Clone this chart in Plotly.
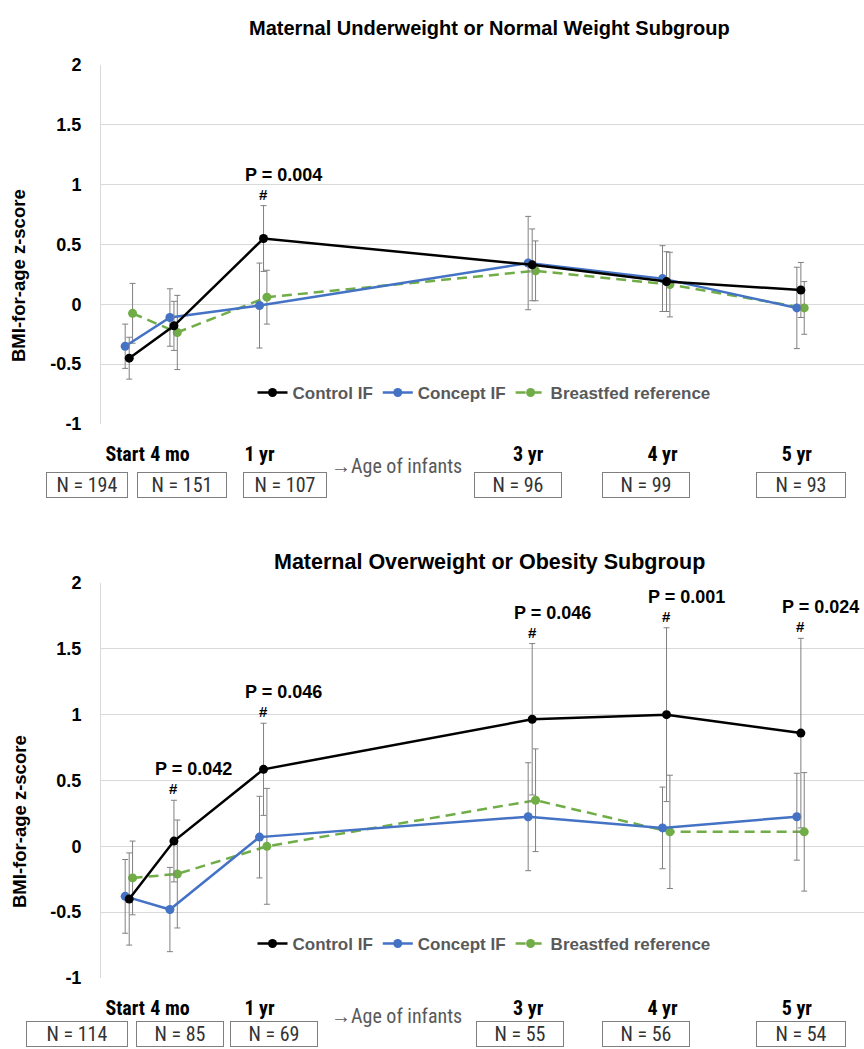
import plotly.graph_objects as go

# ---------------- data ----------------
time_labels = ["Start", "4 mo", "1 yr", "3 yr", "4 yr", "5 yr"]
age_years = [0, 0.333, 1, 3, 4, 5]
y_tick_vals = [-1, -0.5, 0, 0.5, 1, 1.5, 2]
y_tick_text = ["-1", "-0.5", "0", "0.5", "1", "1.5", "2"]

top_control = [-0.45, -0.18, 0.55, 0.33, 0.19, 0.12]
top_control_err = [0.175, 0.205, 0.275, 0.30, 0.25, 0.23]
top_concept = [-0.35, -0.11, -0.01, 0.345, 0.215, -0.03]
top_concept_err = [0.185, 0.24, 0.355, 0.39, 0.275, 0.34]
top_bf = [-0.075, -0.235, 0.06, 0.28, 0.165, -0.03]
top_bf_err = [0.25, 0.31, 0.225, 0.25, 0.27, 0.22]

bot_control = [-0.40, 0.04, 0.585, 0.965, 1.00, 0.86]
bot_control_err = [0.35, 0.31, 0.35, 0.575, 0.66, 0.72]
bot_concept = [-0.38, -0.48, 0.07, 0.225, 0.14, 0.225]
bot_concept_err = [0.28, 0.32, 0.31, 0.41, 0.31, 0.33]
bot_bf = [-0.24, -0.21, 0.0, 0.35, 0.11, 0.11]
bot_bf_err = [0.28, 0.41, 0.44, 0.39, 0.43, 0.45]

top_n = ["N = 194", "N = 151", "N = 107", "N = 96", "N = 99", "N = 93"]
bot_n = ["N = 114", "N = 85", "N = 69", "N = 55", "N = 56", "N = 54"]

top_p_idx = [2]
top_p_text = ["P = 0.004"]
bot_p_idx = [1, 2, 3, 4, 5]
bot_p_text = ["P = 0.042", "P = 0.046", "P = 0.046", "P = 0.001", "P = 0.024"]

top_title = "Maternal Underweight or Normal Weight Subgroup"
bot_title = "Maternal Overweight or Obesity Subgroup"
y_title = "BMI-for-age z-score"
x_note = "\u2192Age of infants"

# ---------------- style / layout ----------------
W, H = 864, 1049
BLACK, BLUE, GREEN, GREY = "#000000", "#4472C4", "#70AD47", "#808080"
NARROW = "Liberation Sans Narrow, Roboto Condensed, Liberation Sans, Arial"
SANS = "Liberation Sans, Arial"
off_concept, off_control, off_bf = 0.0, 0.03, 0.055


def px(x):
    return x / W


def py(y):
    return 1 - y / H


fig = go.Figure()


def add_series(values, errs, offset, name, color, dash, xa, ya, legend, show):
    fig.add_trace(go.Scatter(
        x=[a + offset for a in age_years], y=values, name=name,
        mode="lines+markers", xaxis=xa, yaxis=ya, legend=legend, showlegend=show,
        line=dict(color=color, width=2.5, dash=dash),
        marker=dict(color=color, size=9),
        error_y=dict(type="data", array=errs, color=GREY, thickness=1, width=3),
    ))


for xa, ya, lg, c, ce, k, ke, b, be in [
    ("x", "y", "legend", top_control, top_control_err, top_concept, top_concept_err, top_bf, top_bf_err),
    ("x2", "y2", "legend2", bot_control, bot_control_err, bot_concept, bot_concept_err, bot_bf, bot_bf_err),
]:
    add_series(b, be, off_bf, "Breastfed reference", GREEN, "10px,6px", xa, ya, lg, True)
    add_series(k, ke, off_concept, "Concept IF", BLUE, "solid", xa, ya, lg, True)
    add_series(c, ce, off_control, "Control IF", BLACK, "solid", xa, ya, lg, True)

xaxis_common = dict(
    range=[-0.18, 5.5], tickvals=age_years, ticktext=time_labels,
    showgrid=False, zeroline=False, showline=False, automargin=False,
    ticks="outside", ticklen=12, tickcolor="rgba(0,0,0,0)",
    tickfont=dict(family=NARROW, size=20, color="black", weight="bold"),
    domain=[px(101), 1.0],
)
yaxis_common = dict(
    range=[-1, 2], tickvals=y_tick_vals, ticktext=y_tick_text,
    showgrid=True, gridcolor="#d9d9d9", gridwidth=1, zeroline=False,
    showline=True, linecolor="#d9d9d9", linewidth=1, automargin=False,
    ticks="outside", ticklen=15, tickcolor="rgba(0,0,0,0)",
    tickfont=dict(family=SANS, size=18, color="black", weight="bold"),
)

fig.update_layout(
    width=W, height=H, margin=dict(l=0, r=0, t=0, b=0, autoexpand=False),
    paper_bgcolor="white", plot_bgcolor="white",
    xaxis=dict(xaxis_common, anchor="y"),
    yaxis=dict(yaxis_common, domain=[py(424), py(65)], anchor="x"),
    xaxis2=dict(xaxis_common, anchor="y2"),
    yaxis2=dict(yaxis_common, domain=[py(978), py(583)], anchor="x2"),
)

legend_common = dict(
    orientation="h", xanchor="center", yanchor="middle", x=px(484),
    traceorder="reversed", bgcolor="rgba(0,0,0,0)",
    font=dict(family=SANS, size=17, color="#595959", weight="bold"),
    itemwidth=30, entrywidth=0,
)
fig.update_layout(
    legend=dict(legend_common, y=py(393)),
    legend2=dict(legend_common, y=py(944)),
)

ann = []
# titles
for text, yy, fs in [(top_title, 28, 20), (bot_title, 562, 21.5)]:
    ann.append(dict(text=text, x=px(489), y=py(yy), xref="paper", yref="paper",
                    showarrow=False, xanchor="center", yanchor="middle",
                    font=dict(family=SANS, size=fs, color="black", weight="bold")))
# y titles
for yy in [276, 822]:
    ann.append(dict(text=y_title, x=px(19), y=py(yy), xref="paper", yref="paper",
                    showarrow=False, textangle=-90, xanchor="center", yanchor="middle",
                    font=dict(family=SANS, size=18.5, color="black", weight="bold")))
# P values and #
for idxs, texts, vals, errs, xr, yr in [
    (top_p_idx, top_p_text, top_control, top_control_err, "x", "y"),
    (bot_p_idx, bot_p_text, bot_control, bot_control_err, "x2", "y2"),
]:
    for i, t in zip(idxs, texts):
        xv = age_years[i] + off_control
        yv = vals[i] + errs[i]
        ann.append(dict(text="#", x=xv, y=yv, xref=xr, yref=yr, showarrow=False,
                        xanchor="center", yanchor="bottom", yshift=1,
                        font=dict(family=SANS, size=15, color="black", weight="bold")))
        ann.append(dict(text=t, x=xv, y=yv, xref=xr, yref=yr, showarrow=False,
                        xanchor="center", yanchor="bottom", yshift=19, xshift=20,
                        font=dict(family=SANS, size=18, color="black", weight="bold")))
# N boxes
top_box_cx = [87, 182, 285, 518, 646, 801]
top_box_w = [82, 90, 84, 88, 88, 90]
bot_box_cx = [77, 180, 274, 520, 646, 801]
bot_box_w = [102, 88, 88, 88, 88, 90]
for labels, cxs, ws, cy in [(top_n, top_box_cx, top_box_w, 485), (bot_n, bot_box_cx, bot_box_w, 1034)]:
    for lab, cx, w in zip(labels, cxs, ws):
        ann.append(dict(text=lab, x=px(cx), y=py(cy), xref="paper", yref="paper",
                        showarrow=False, xanchor="center", yanchor="middle",
                        width=w - 4, height=22, borderpad=1, bordercolor="#7f7f7f",
                        borderwidth=1, bgcolor="white",
                        font=dict(family=NARROW, size=20, color="#333333")))
for yy in [466, 1016]:
    ann.append(dict(text=x_note, x=px(396), y=py(yy), xref="paper", yref="paper",
                    showarrow=False, xanchor="center", yanchor="middle",
                    font=dict(family=NARROW, size=20, color="#595959")))

fig.update_layout(annotations=ann)
fig.write_html(
    "out.html",
    config={"displayModeBar": False},
    post_script="document.body.style.margin='0px';document.body.style.overflow='hidden';",
)
